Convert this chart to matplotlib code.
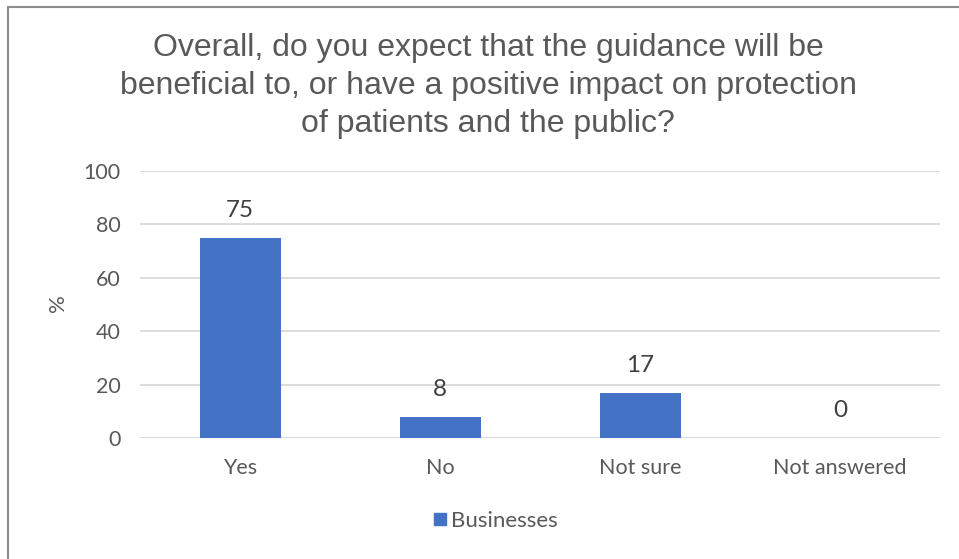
import matplotlib
matplotlib.use("Agg")
import matplotlib.pyplot as plt
from matplotlib.lines import Line2D

# Survey answers (percent of businesses)
categories = ["Yes", "No", "Not sure", "Not answered"]
percent = [75, 8, 17, 0]
series_name = "Businesses"
yticks = [0, 20, 40, 60, 80, 100]
title = ("Overall, do you expect that the guidance will be\n"
         "beneficial to, or have a positive impact on protection\n"
         "of patients and the public?")

bar_color = "#4472C4"
grey_text = "#595959"
label_text = "#404040"
grid_color = "#D9D9D9"
body_font = ["Lato", "DejaVu Sans"]
title_font = ["Liberation Sans", "DejaVu Sans"]

fig = plt.figure(figsize=(9.59, 5.59), dpi=100)
ax = fig.add_axes([140 / 959, 121 / 559, 800 / 959, 267 / 559])

x = range(len(categories))
bars = ax.bar(x, percent, width=0.405, color=bar_color, zorder=3)

for b, v in zip(bars, percent):
    ax.annotate(str(v), (b.get_x() + b.get_width() / 2, v),
                xytext=(0, 19.5), textcoords="offset points",
                ha="center", va="center", fontsize=17.5,
                color=label_text, family=body_font)

ax.set_xlim(-0.5, len(categories) - 0.5)
ax.set_ylim(0, 100)
ax.set_yticks(yticks)
ax.set_xticks(list(x))
ax.set_xticklabels(categories, fontsize=15.5, color=grey_text, family=body_font)
ax.set_yticklabels([str(t) for t in yticks], fontsize=15.5, color=grey_text,
                   family=body_font)
ax.tick_params(axis="both", length=0)
ax.tick_params(axis="y", pad=14)
ax.tick_params(axis="x", pad=14.5)
ax.grid(axis="y", color=grid_color, linewidth=1.3, zorder=0)
for s in ax.spines.values():
    s.set_visible(False)
ax.axhline(0, color=grid_color, linewidth=1.3, zorder=2)

# y axis title
fig.text(58 / 959, (559 - 303) / 559, "%", rotation=90, ha="center", va="center",
         fontsize=16, color=grey_text, family=body_font)

fig.text(488 / 959, (559 - 86) / 559, title, ha="center", va="center",
         fontsize=23, color=grey_text, family=title_font, linespacing=1.34)

# legend entry below the plot
handle = Line2D([], [], marker="s", linestyle="none", markersize=8,
                markerfacecolor=bar_color, markeredgecolor=bar_color)
fig.legend([handle], [series_name], loc="center", bbox_to_anchor=(494 / 959, (559 - 521) / 559),
           frameon=False, handletextpad=0.1, handlelength=0.8,
           prop={"family": body_font, "size": 16}, labelcolor=grey_text)

# chart border (top and left edges)
fig.add_artist(Line2D([8 / 959, 1], [1 - 7 / 559, 1 - 7 / 559], transform=fig.transFigure,
                      color="#8C8C8C", linewidth=1.5))
fig.add_artist(Line2D([8 / 959, 8 / 959], [0, 1 - 7 / 559], transform=fig.transFigure,
                      color="#8C8C8C", linewidth=1.5))

fig.savefig("out.png", dpi=100, facecolor="white")
